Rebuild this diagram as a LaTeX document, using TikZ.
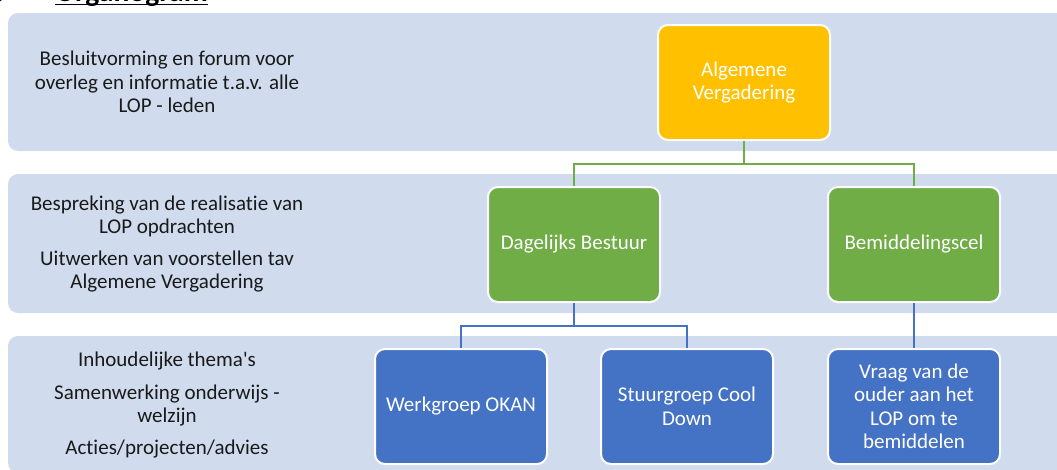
\documentclass[tikz,border=0pt]{standalone}
\usepackage{fontspec}
\setmainfont{Carlito}[Ligatures={TeXOff,CommonOff}]
\usepackage{xcolor}
\usepackage{tikz}

\definecolor{bandblue}{HTML}{D0DCEE}
\definecolor{avgold}{HTML}{FFC000}
\definecolor{dbgreen}{HTML}{70AD47}
\definecolor{wgblue}{HTML}{4472C4}

\tikzset{
  orgbox/.style={rectangle, rounded corners=10pt, draw=white, line width=2pt,
    minimum width=172pt, minimum height=115pt, align=center, text=white,
    font=\fontsize{21}{23.5}\selectfont},
  bandtext/.style={align=center, text=black!90, font=\fontsize{21}{23.5}\selectfont}
}

\begin{document}
\begin{tikzpicture}[x=1pt, y=1pt, level distance=162pt,
    edge from parent path={(\tikzparentnode.south) -- ++(0,-23) -| (\tikzchildnode.north)},
    level 1/.style={sibling distance=340pt, edge from parent/.style={draw=dbgreen, line width=2.2pt}},
    level 2/.style={sibling distance=226pt, edge from parent/.style={draw=wgblue, line width=2.2pt}}]
    \useasboundingbox (0,0) rectangle (1057,-469);
    % title, mostly cut off at the top
    \node[anchor=base west, inner sep=0, font=\bfseries\fontsize{29.6}{32}\selectfont] (title) at (55,-1.5) {Organogram};
    \node[anchor=base east, inner sep=0, font=\bfseries\fontsize{29.6}{32}\selectfont] (num) at (4,-1.5) {1.};
    \draw[line width=1.6pt] ([yshift=-3pt]title.base west) -- ([yshift=-3pt]title.base east);
    % bands
    \fill[bandblue, rounded corners=10pt] (8,-13) rectangle (1075,-151);
    \fill[bandblue, rounded corners=10pt] (8,-174) rectangle (1075,-313);
    \fill[bandblue, rounded corners=10pt] (8,-336) rectangle (1075,-473);
    \node[bandtext] (banda) at (167,-82) {Besluitvorming en forum voor\\overleg en informatie t.a.v. alle\\LOP - leden};
    \node[bandtext] (bandb) at (167,-244) {Bespreking van de realisatie van\\LOP opdrachten\\[8pt]Uitwerken van voorstellen tav\\Algemene Vergadering};
    \node[bandtext] (bandc) at (167,-405) {Inhoudelijke thema's\\[9pt]Samenwerking onderwijs -\\welzijn\\[8pt]Acties/projecten/advies};
    % organogram
    \node[orgbox, fill=avgold] (av) at (744,-82.5) {Algemene\\Vergadering}
        child {node[orgbox, fill=dbgreen] (db) {Dagelijks Bestuur}
            child {node[orgbox, fill=wgblue] (wo) {Werkgroep OKAN}}
            child {node[orgbox, fill=wgblue] (scd) {Stuurgroep Cool\\Down}}
        }
        child {node[orgbox, fill=dbgreen] (bc) {Bemiddelingscel}
            child {node[orgbox, fill=wgblue] (vo) {Vraag van de\\ouder aan het\\LOP om te\\bemiddelen}}
        };
\end{tikzpicture}
\end{document}
